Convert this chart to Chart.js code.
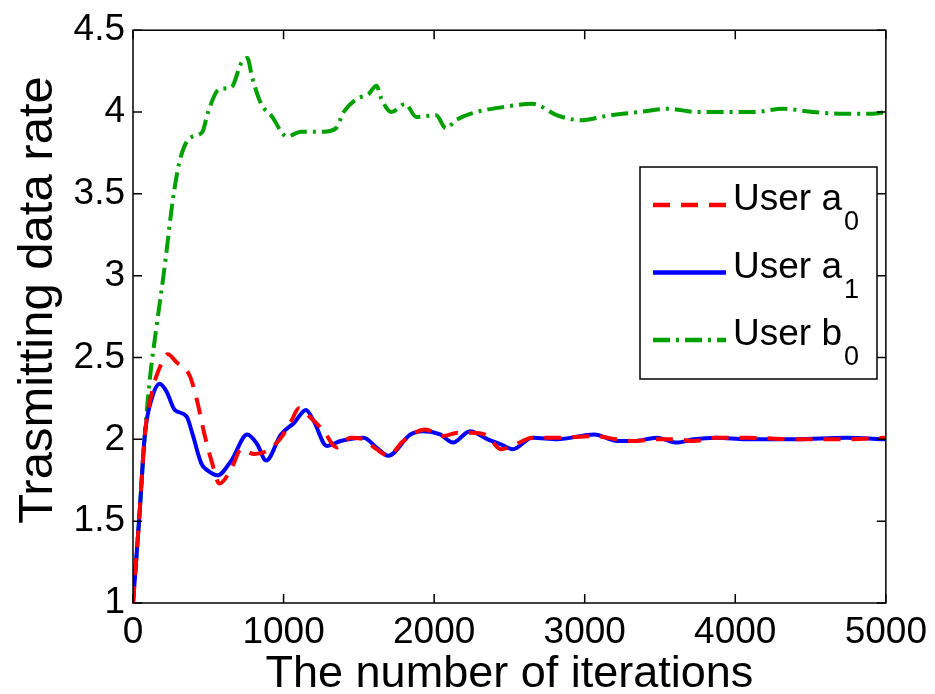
<!DOCTYPE html>
<html>
<head>
<meta charset="utf-8">
<script src="https://cdn.jsdelivr.net/npm/chart.js@4/dist/chart.umd.min.js"></script>
<style>
  body { margin: 0; background: #fff; }
  canvas { display: block; }
</style>
</head>
<body>
<canvas id="rateChart" width="935" height="694"></canvas>
<script>
// values
const iterA0 = [0, 40, 79, 132, 165, 231, 290, 376, 422, 475, 521, 574, 653, 719, 805, 891, 983, 1050, 1102, 1182, 1267, 1353, 1446, 1531, 1617, 1696, 1795, 1941, 2059, 2158, 2244, 2356, 2442, 2521, 2653, 2818, 3063, 3215, 3327, 3479, 3611, 3723, 3875, 4073, 4403, 4733, 5000];
const rateA0 = [1, 1.5, 2.03, 2.31, 2.41, 2.52, 2.47, 2.39, 2.25, 2.03, 1.87, 1.73, 1.82, 1.94, 1.91, 1.93, 2.01, 2.11, 2.19, 2.13, 2.05, 1.95, 2.01, 2.00, 1.94, 1.90, 1.99, 2.06, 2.02, 2.04, 2.04, 2.02, 1.94, 1.96, 2.01, 2.01, 2.02, 2.00, 1.99, 2.00, 2.00, 1.99, 2.01, 2.01, 2.00, 2.00, 2.01];

const iterA1 = [0, 40, 79, 125, 178, 224, 277, 356, 396, 455, 495, 561, 653, 759, 825, 884, 983, 1069, 1149, 1201, 1287, 1380, 1531, 1617, 1696, 1842, 1927, 2040, 2125, 2238, 2356, 2442, 2521, 2653, 2818, 3063, 3215, 3327, 3479, 3611, 3723, 3875, 4073, 4403, 4733, 5000];
const rateA1 = [1, 1.5, 2.03, 2.25, 2.34, 2.29, 2.18, 2.14, 2.03, 1.85, 1.81, 1.78, 1.87, 2.03, 1.97, 1.87, 2.03, 2.10, 2.18, 2.11, 1.96, 1.99, 2.01, 1.95, 1.90, 2.03, 2.05, 2.03, 1.98, 2.05, 2.00, 1.97, 1.94, 2.01, 2.00, 2.03, 1.99, 1.99, 2.01, 1.98, 2.00, 2.01, 2.00, 2.00, 2.01, 2.00];

const iterB0 = [0, 40, 79, 112, 158, 211, 264, 310, 376, 462, 495, 574, 653, 719, 759, 792, 851, 917, 1023, 1116, 1267, 1347, 1399, 1485, 1564, 1617, 1650, 1716, 1809, 1881, 2013, 2079, 2145, 2244, 2455, 2653, 2818, 2970, 3168, 3360, 3558, 3743, 3941, 4125, 4317, 4515, 4713, 4911, 5000];
const rateB0 = [1, 1.5, 2.03, 2.37, 2.70, 3.06, 3.46, 3.70, 3.84, 3.88, 3.99, 4.14, 4.15, 4.30, 4.33, 4.21, 4.05, 3.98, 3.85, 3.88, 3.88, 3.90, 4.00, 4.08, 4.11, 4.16, 4.08, 4.00, 4.05, 3.97, 3.98, 3.90, 3.95, 3.99, 4.03, 4.05, 3.98, 3.95, 3.98, 4.00, 4.02, 4.00, 4.00, 4.00, 4.02, 4.00, 3.99, 3.99, 4.00];

const seriesNames = ['User a', 'User a', 'User b'];
const seriesSubs = ['0', '1', '0'];

const xTicks = [0, 1000, 2000, 3000, 4000, 5000];
const yTicks = [1, 1.5, 2, 2.5, 3, 3.5, 4, 4.5];

const xTitle = 'The number of iterations';
const yTitle = 'Trasmitting data rate';

const FONT = '"Liberation Sans", Arial, sans-serif';

function toPoints(xs, ys) {
  return xs.map((x, i) => ({ x, y: ys[i] }));
}

const styles = [
  { color: '#ff0000', dash: [17, 11] },
  { color: '#0000ff', dash: [] },
  { color: '#00a000', dash: [17, 6, 3, 6] }
];

// MATLAB-like box with inward ticks
const boxPlugin = {
  id: 'boxTicks',
  afterDatasetsDraw(chart) {
    const { ctx, chartArea: a, scales } = chart;
    const len = 9;
    ctx.save();
    ctx.strokeStyle = '#000';
    ctx.lineWidth = 1.5;
    ctx.beginPath();
    xTicks.forEach(v => {
      const px = scales.x.getPixelForValue(v);
      ctx.moveTo(px, a.bottom); ctx.lineTo(px, a.bottom - len);
      ctx.moveTo(px, a.top); ctx.lineTo(px, a.top + len);
    });
    yTicks.forEach(v => {
      const py = scales.y.getPixelForValue(v);
      ctx.moveTo(a.left, py); ctx.lineTo(a.left + len, py);
      ctx.moveTo(a.right, py); ctx.lineTo(a.right - len, py);
    });
    ctx.stroke();
    ctx.strokeRect(a.left, a.top, a.right - a.left, a.bottom - a.top);
    ctx.restore();
  }
};

// axis titles
const titlePlugin = {
  id: 'axisTitles',
  afterDraw(chart) {
    const { ctx, chartArea: a } = chart;
    ctx.save();
    ctx.fillStyle = '#000';
    ctx.textAlign = 'center';
    ctx.textBaseline = 'alphabetic';
    ctx.font = '45px ' + FONT;
    ctx.fillText(xTitle, (a.left + a.right) / 2, 687);
    ctx.translate(52, 300);
    ctx.rotate(-Math.PI / 2);
    ctx.font = '49px ' + FONT;
    ctx.fillText(yTitle, 0, 0);
    ctx.restore();
  }
};

// legend with subscripts
const legendPlugin = {
  id: 'subLegend',
  afterDraw(chart) {
    const { ctx } = chart;
    const box = { x: 640, y: 167, w: 237, h: 212 };
    ctx.save();
    ctx.fillStyle = '#fff';
    ctx.fillRect(box.x, box.y, box.w, box.h);
    ctx.strokeStyle = '#000';
    ctx.lineWidth = 1.5;
    ctx.strokeRect(box.x, box.y, box.w, box.h);

    seriesNames.forEach((name, i) => {
      const base = 210 + i * 67.5;
      const ly = base - 5;
      ctx.strokeStyle = styles[i].color;
      ctx.lineWidth = 4.5;
      ctx.setLineDash(styles[i].dash);
      ctx.beginPath();
      ctx.moveTo(653, ly);
      ctx.lineTo(726, ly);
      ctx.stroke();
      ctx.setLineDash([]);

      ctx.fillStyle = '#000';
      ctx.textBaseline = 'alphabetic';
      ctx.textAlign = 'left';
      ctx.font = '37px ' + FONT;
      ctx.fillText(name, 733, base);
      const w = ctx.measureText(name).width;
      ctx.font = '27px ' + FONT;
      ctx.fillText(seriesSubs[i], 733 + w + 2, base + 20);
    });
    ctx.restore();
  }
};

const ctx = document.getElementById('rateChart').getContext('2d');

new Chart(ctx, {
  type: 'line',
  data: {
    datasets: [
      { data: toPoints(iterA0, rateA0) },
      { data: toPoints(iterA1, rateA1) },
      { data: toPoints(iterB0, rateB0) }
    ].map((d, i) => ({
      ...d,
      borderColor: styles[i].color,
      borderDash: styles[i].dash,
      borderWidth: 4,
      pointRadius: 0,
      fill: false,
      cubicInterpolationMode: 'monotone'
    }))
  },
  options: {
    responsive: false,
    animation: false,
    layout: { padding: { top: 25, right: 44, left: 0, bottom: 0 } },
    plugins: {
      legend: { display: false },
      tooltip: { enabled: false }
    },
    scales: {
      x: {
        type: 'linear',
        min: 0,
        max: 5000,
        afterBuildTicks: s => { s.ticks = xTicks.map(v => ({ value: v })); },
        afterFit: s => { s.height = 91; },
        grid: { display: false, drawTicks: false },
        border: { display: false },
        ticks: {
          color: '#000',
          padding: 8,
          maxRotation: 0,
          font: { family: FONT, size: 37 },
          callback: v => String(v)
        }
      },
      y: {
        type: 'linear',
        min: 1,
        max: 4.5,
        afterBuildTicks: s => { s.ticks = yTicks.map(v => ({ value: v })); },
        afterFit: s => { s.width = 133; },
        grid: { display: false, drawTicks: false },
        border: { display: false },
        ticks: {
          color: '#000',
          padding: 8,
          font: { family: FONT, size: 37 },
          callback: v => String(v)
        }
      }
    }
  },
  plugins: [boxPlugin, titlePlugin, legendPlugin]
});
</script>
</body>
</html>
